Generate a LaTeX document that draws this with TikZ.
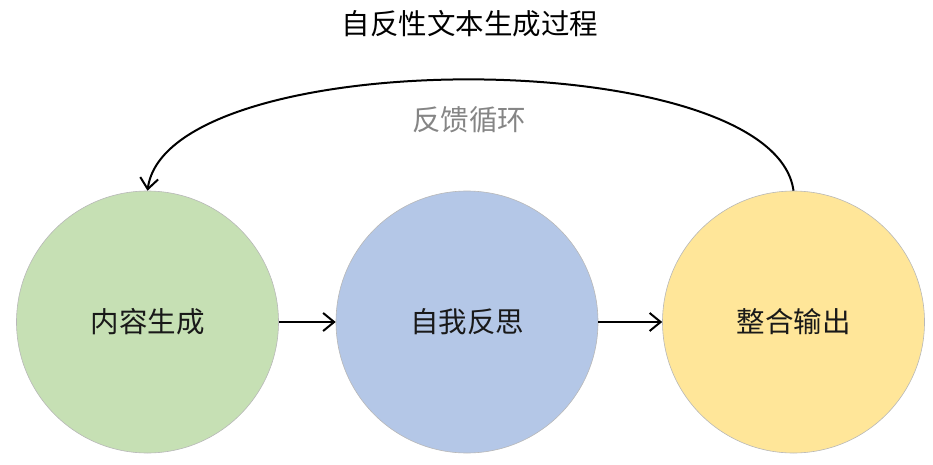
\documentclass[tikz,border=0pt]{standalone}
\usepackage{fontspec}
\setmainfont{Noto Sans CJK SC}
\usetikzlibrary{arrows.meta}
\definecolor{cgreen}{HTML}{C6E0B4}
\definecolor{cblue}{HTML}{B4C7E7}
\definecolor{cyellow}{HTML}{FFE699}
\definecolor{cedge}{HTML}{B8B8B8}
\definecolor{clabel}{HTML}{858585}
\begin{document}
\begin{tikzpicture}[x=1pt,y=-1pt,
  stage/.style={circle,draw=cedge,line width=0.6pt,minimum size=262pt,inner sep=0pt,
    font=\fontsize{28.5}{32}\selectfont,text=black!90},
  arr/.style={line width=2pt,-{Straight Barb[length=11pt,width=18pt,line width=2pt]}},
  txt/.style={font=\fontsize{28.5}{32}\selectfont,inner sep=0pt}]
\useasboundingbox (0,0) rectangle (933,465);
\node[txt] (title) at (470,24) {自反性文本生成过程};
\node[stage,fill=cgreen] (c1) at (147.5,322) {内容生成};
\node[stage,fill=cblue] (c2) at (467,322) {自我反思};
\node[stage,fill=cyellow] (c3) at (793.5,322) {整合输出};
\node[txt,text=clabel] (fb) at (469,120) {反馈循环};
\draw[arr] (c1.east) -- (c2.west);
\draw[arr] (c2.east) -- (c3.west);
\draw[arr] (c3.north) .. controls ([shift={(-20,-148)}]c3.north) and ([shift={(20,-148)}]c1.north) .. (c1.north);
\end{tikzpicture}
\end{document}
